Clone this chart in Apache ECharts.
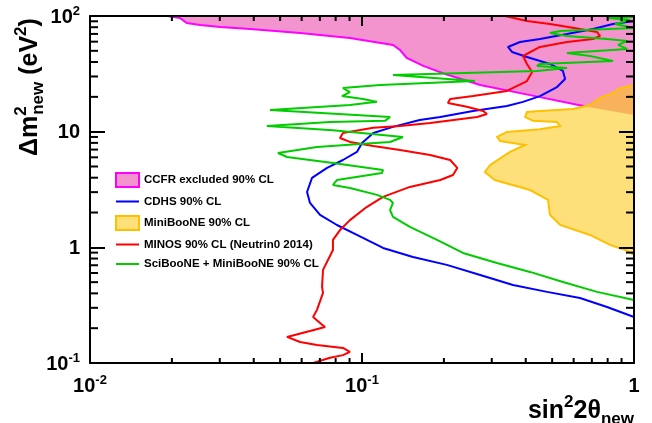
<!DOCTYPE html>
<html><head><meta charset="utf-8">
<script src="https://cdn.jsdelivr.net/npm/echarts/dist/echarts.min.js"></script>
<style>html,body{margin:0;padding:0;background:#fff}#c{width:652px;height:423px}</style>
</head><body><div id="c"></div><script>
// ---- data (sin^2 2theta , delta m^2) ----
const ccfrX = [0.0192,0.0214,0.0227,0.0254,0.0301,0.0388,0.0592,0.0903,0.130,0.138,0.146,0.168,0.202,0.272,0.415,0.672,1.0];
const ccfrY = [100,96.1,86.9,83.6,80.4,77.2,71.3,64.5,56.2,50.8,43.4,37.0,31.5,25.3,20.7,16.4,13.9];
const miniX = [1.0,0.888,0.837,0.750,0.689,0.597,0.451,0.404,0.398,0.425,0.521,0.535,0.451,0.341,0.314,0.322,0.398,0.350,0.296,0.283,0.308,0.415,0.483,0.491,0.535,0.689,0.816,0.927,1.0];
const miniY = [25.3,23.8,21.6,19.6,17.0,15.7,15.1,14.8,13.4,12.4,12.1,11.2,10.5,9.94,9.00,8.31,7.67,6.68,5.15,4.48,3.82,3.13,2.57,1.91,1.56,1.28,1.05,0.949,0.859];
const cdhsX = [1.0,0.837,0.707,0.567,0.451,0.381,0.344,0.356,0.404,0.491,0.548,0.558,0.521,0.451,0.391,0.341,0.256,0.194,0.163,0.130,0.110,0.100,0.0958,0.0851,0.0744,0.0655,0.0628,0.0644,0.0701,0.0809,0.0958,0.1195,0.154,0.205,0.272,0.359,0.479,0.633,0.796,1.0];
const cdhsY = [90.5,85.3,77.2,69.9,63.3,59.6,54.0,48.9,44.2,38.5,33.5,28.5,24.3,20.3,18.1,16.7,15.1,13.4,12.6,11.0,9.74,7.99,6.68,5.69,4.86,3.98,3.01,2.42,1.91,1.56,1.28,0.988,0.826,0.705,0.577,0.473,0.412,0.365,0.305,0.250];
const minosX = [0.336,0.404,0.491,0.633,0.731,0.750,0.707,0.567,0.451,0.391,0.404,0.422,0.404,0.341,0.256,0.211,0.207,0.243,0.279,0.288,0.265,0.178,0.138,0.110,0.0851,0.0830,0.0903,0.110,0.138,0.178,0.211,0.224,0.216,0.194,0.150,0.1195,0.104,0.0903,0.0830,0.0782,0.0782,0.0719,0.0713,0.0719,0.0683,0.0661,0.0701,0.0731,0.0644,0.0530,0.0592,0.0683,0.0851,0.0903,0.0851,0.0763,0.0661];
const minosY = [100,90.5,85.3,77.2,72.7,67.2,63.3,59.6,54.0,45.1,38.5,32.8,27.4,22.5,20.3,19.2,17.7,16.4,15.1,14.2,13.4,11.9,11.2,10.8,9.74,8.82,8.15,7.52,6.95,6.29,5.69,4.86,4.22,3.82,3.33,2.73,2.23,1.72,1.41,1.16,0.949,0.638,0.455,0.404,0.288,0.250,0.222,0.205,0.189,0.168,0.152,0.143,0.135,0.125,0.117,0.111,0.100];
const sciX = [1.0,0.803,0.967,0.852,1.0,0.535,0.491,0.567,0.796,0.943,0.874,0.943,0.567,0.689,0.837,0.451,0.440,0.567,0.440,0.130,0.260,0.1165,0.0851,0.0903,0.0844,0.1009,0.1135,0.0903,0.0459,0.1268,0.1215,0.0763,0.0447,0.0782,0.1414,0.1268,0.0983,0.0683,0.0491,0.0530,0.0782,0.1195,0.1184,0.0809,0.0782,0.0903,0.1135,0.1268,0.130,0.1268,0.130,0.150,0.1887,0.2351,0.3135,0.4147,0.548,0.731,1.0];
const sciY = [98.0,96.1,92.3,85.3,78.7,74.2,71.3,67.2,63.3,60.8,56.2,51.9,47.9,45.1,40.9,38.5,37.0,35.5,33.5,30.9,27.4,25.3,23.8,22.0,20.3,19.2,18.1,17.0,15.4,13.4,12.4,12.1,11.2,10.3,9.00,8.15,7.83,7.37,6.54,6.04,5.36,4.67,4.40,3.82,3.46,3.26,2.84,2.57,2.42,2.10,1.83,1.50,1.16,0.894,0.733,0.613,0.502,0.412,0.351];
const seriesNames = ['CCFR excluded 90% CL','CDHS 90% CL','MiniBooNE 90% CL','MINOS 90% CL (Neutrin0 2014)','SciBooNE + MiniBooNE 90% CL'];
const xMajor = [0.01, 0.1, 1];
const xTickLabels = [['10','-2'],['10','-1'],['1','']];
const yMajor = [0.1, 1, 10, 100];
const yTickLabels = [['10','-1'],['1',''],['10',''],['10','2']];
const xMinor = [0.02,0.03,0.04,0.05,0.06,0.07,0.08,0.09,0.2,0.3,0.4,0.5,0.6,0.7,0.8,0.9];
const yMinor = [0.2,0.3,0.4,0.5,0.6,0.7,0.8,0.9,2,3,4,5,6,7,8,9,20,30,40,50,60,70,80,90];

// ---- helpers ----
const FONT = 'Liberation Sans';
const PINK = '#f394cf', MAGENTA = '#ff00ff', YELLOW = '#fde07a', GOLD = '#ffc000', OVERLAP = '#f8b25c';
function pairs(xs, ys){ return xs.map((x,i)=>[x, ys[i]]); }

const ccfrSeries = {
  type:'custom', name:seriesNames[0], z:1, coordinateSystem:'cartesian2d', clip:true, silent:true,
  itemStyle:{color: PINK, borderColor: MAGENTA, borderWidth: 2},
  data:[[ccfrX[0], ccfrY[0]]],
  renderItem(params, api){
    const pts = ccfrX.map((x,i)=>api.coord([x, ccfrY[i]]));
    const poly = pts.concat([api.coord([1, 100])]);
    return {type:'group', children:[
      {type:'polygon', shape:{points: poly}, style:{fill: PINK, stroke: null}},
      {type:'polyline', shape:{points: pts}, style:{fill: null, stroke: MAGENTA, lineWidth: 2}}
    ]};
  }
};
const miniSeries = {
  type:'custom', name:seriesNames[2], z:2, coordinateSystem:'cartesian2d', clip:true, silent:true,
  itemStyle:{color: YELLOW, borderColor: GOLD, borderWidth: 2},
  data:[[miniX[0], miniY[0]]],
  renderItem(params, api){
    const pts = miniX.map((x,i)=>api.coord([x, miniY[i]]));
    const ccfrPoly = ccfrX.map((x,i)=>api.coord([x, ccfrY[i]])).concat([api.coord([1, 100])]);
    return {type:'group', children:[
      {type:'polygon', shape:{points: pts}, style:{fill: YELLOW, stroke: null}},
      {type:'polygon', shape:{points: pts}, style:{fill: OVERLAP, stroke: null},
        clipPath:{type:'polygon', shape:{points: ccfrPoly}}},
      {type:'polyline', shape:{points: pts}, style:{fill: null, stroke: GOLD, lineWidth: 2}}
    ]};
  }
};
function curve(name, xs, ys, color){
  return {type:'line', name, z:3, data: pairs(xs, ys), symbol:'none', showSymbol:false, smooth:false, clip:true,
    lineStyle:{color, width:2}, itemStyle:{color}, animation:false};
}
function labelFmt(majors, labels){
  return function(v){
    const e = Math.round(Math.log10(v));
    const idx = majors.findIndex(m => Math.round(Math.log10(m)) === e);
    if (idx < 0) return '';
    const l = labels[idx];
    return l[1] ? '{b|' + l[0] + '}{s|' + l[1] + '}' : '{b|' + l[0] + '}';
  };
}
const tickRich = {
  b:{fontFamily:FONT, fontWeight:'bold', fontSize:20, lineHeight:22, color:'#000', verticalAlign:'bottom'},
  s:{fontFamily:FONT, fontWeight:'bold', fontSize:13, lineHeight:13, color:'#000', verticalAlign:'top'}
};
const axisBase = {type:'log', logBase:10, z:5, splitLine:{show:false}, minorTick:{show:false},
  axisLine:{show:true, onZero:false, lineStyle:{color:'#000', width:2}}};

const titleRich = {
  a:{fontFamily:FONT, fontWeight:'bold', fontSize:25, lineHeight:34, fill:'#000'},
  up:{fontFamily:FONT, fontWeight:'bold', fontSize:17, lineHeight:22, verticalAlign:'top', fill:'#000'},
  dn:{fontFamily:FONT, fontWeight:'bold', fontSize:17, lineHeight:18, verticalAlign:'bottom', fill:'#000'}
};
const mctx = document.createElement('canvas').getContext('2d');
mctx.font = 'bold 25px "' + FONT + '"';
const wDm = mctx.measureText('\u0394m').width;
const hideSym = {color:'rgba(0,0,0,0)', borderColor:'rgba(0,0,0,0)', borderWidth:0, opacity:0};

const chart = echarts.init(document.getElementById('c'), null, {renderer:'canvas'});
chart.setOption({
  animation:false,
  backgroundColor:'#fff',
  grid:{left:90, right:18, top:16, bottom:60, containLabel:false, outerBoundsMode:'none'},
  xAxis:[
    Object.assign({}, axisBase, {min:0.01, max:1, position:'bottom',
      axisTick:{show:true, inside:true, length:10, lineStyle:{color:'#000', width:2}},
      axisLabel:{show:true, margin:11, formatter: labelFmt(xMajor, xTickLabels), rich: tickRich}}),
    Object.assign({}, axisBase, {min:0.01, max:1, position:'top',
      axisTick:{show:true, inside:true, length:10, lineStyle:{color:'#000', width:2}},
      axisLabel:{show:false}})
  ],
  yAxis:[
    Object.assign({}, axisBase, {min:0.1, max:100, position:'left',
      axisTick:{show:true, inside:true, length:15, lineStyle:{color:'#000', width:2}},
      axisLabel:{show:true, margin:10, formatter: labelFmt(yMajor, yTickLabels), rich: tickRich}}),
    Object.assign({}, axisBase, {min:0.1, max:100, position:'right',
      axisTick:{show:true, inside:true, length:15, lineStyle:{color:'#000', width:2}},
      axisLabel:{show:false}})
  ],
  legend:{
    orient:'vertical', left:115, top:172, padding:0, itemWidth:23, itemHeight:14, itemGap:7.5,
    selectedMode:false,
    textStyle:{fontFamily:FONT, fontWeight:'bold', fontSize:11.5, color:'#000'},
    data:[
      {name:seriesNames[0], icon:'rect', itemStyle:{color:PINK, borderColor:MAGENTA, borderWidth:2}},
      {name:seriesNames[1], itemStyle:hideSym},
      {name:seriesNames[2], icon:'rect', itemStyle:{color:YELLOW, borderColor:GOLD, borderWidth:2}},
      {name:seriesNames[3], itemStyle:hideSym},
      {name:seriesNames[4], itemStyle:hideSym}
    ]
  },
  graphic:[
    {type:'group', x:30, y:156, rotation:Math.PI/2, children:[
      {type:'text', x:0, y:0, style:{text:'{a|\u0394m}{up|2}', rich:titleRich, align:'left', verticalAlign:'middle'}},
      {type:'text', x:wDm + 1, y:0, style:{text:'{dn|new}{a| (eV}{up|2}{a|)}', rich:titleRich, align:'left', verticalAlign:'middle'}}
    ]},
    {type:'text', x:634, y:411, style:{text:'{a|sin}{up|2}{a|2\u03b8}{dn|new}', rich:titleRich, align:'right', verticalAlign:'middle'}}
  ],
  series:[
    ccfrSeries,
    curve(seriesNames[1], cdhsX, cdhsY, '#0000ff'),
    miniSeries,
    curve(seriesNames[3], minosX, minosY, '#ff0000'),
    curve(seriesNames[4], sciX, sciY, '#00cc00'),
    {type:'custom', name:'minorTicks', z:6, silent:true, clip:false, coordinateSystem:'cartesian2d',
      data:[[0.1, 1]],
      renderItem(params, api){
        const ch = [];
        const yb = api.coord([1, 0.1])[1], yt = api.coord([1, 100])[1];
        const xl = api.coord([0.01, 1])[0], xr = api.coord([1, 1])[0];
        const st = {stroke:'#000', lineWidth:2};
        xMinor.forEach(v => {
          const x = api.coord([v, 1])[0];
          ch.push({type:'line', shape:{x1:x, y1:yb, x2:x, y2:yb-5}, style:st});
          ch.push({type:'line', shape:{x1:x, y1:yt, x2:x, y2:yt+5}, style:st});
        });
        yMinor.forEach(v => {
          const y = api.coord([1, v])[1];
          ch.push({type:'line', shape:{x1:xl, y1:y, x2:xl+8, y2:y}, style:st});
          ch.push({type:'line', shape:{x1:xr, y1:y, x2:xr-8, y2:y}, style:st});
        });
        return {type:'group', children: ch};
      }
    }
  ]
});
</script></body></html>
